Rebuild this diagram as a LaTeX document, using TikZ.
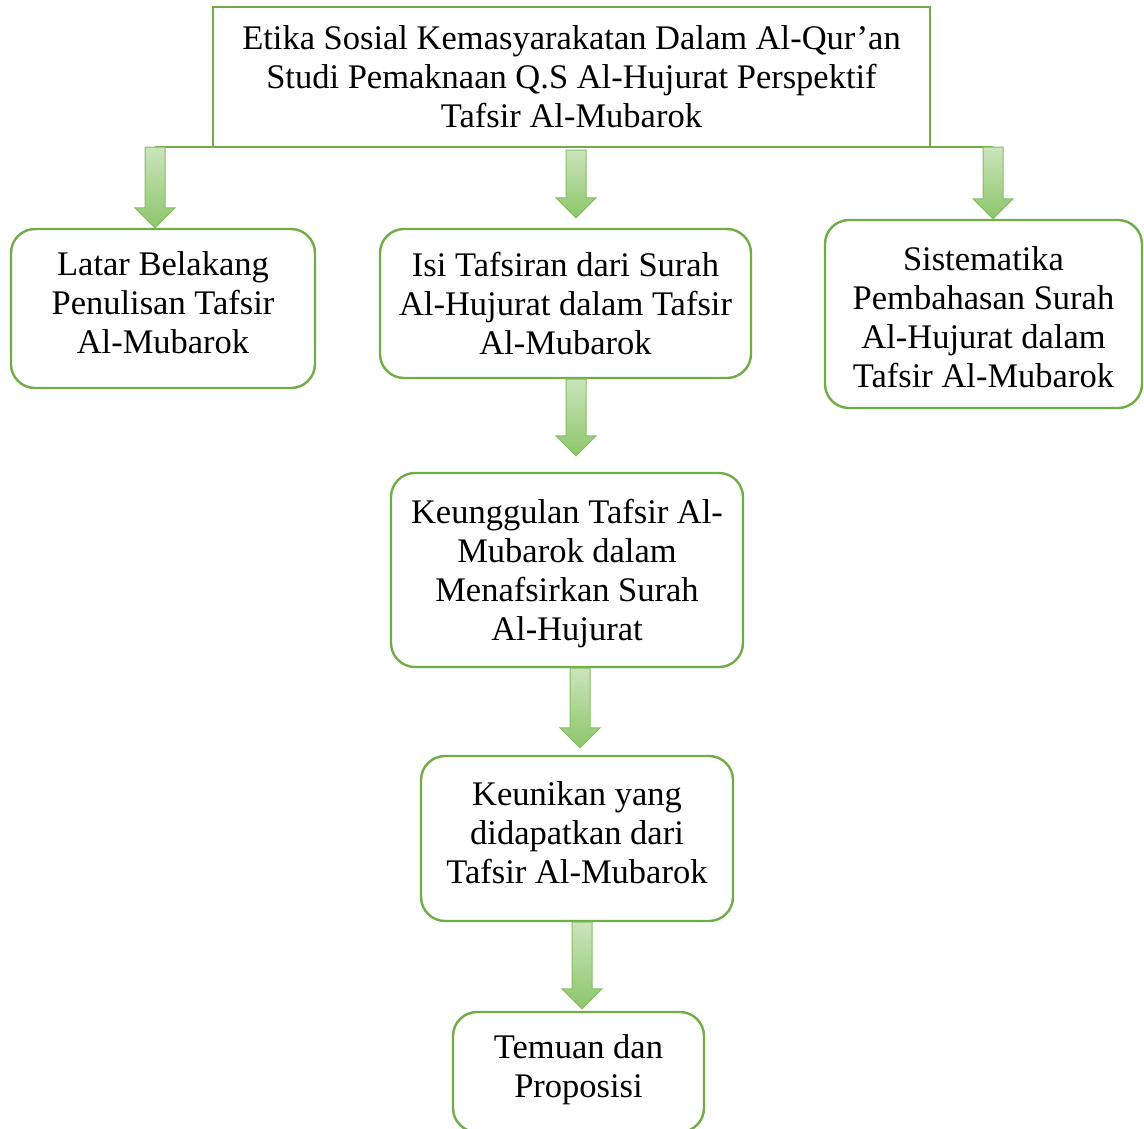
\documentclass[tikz,border=0pt]{standalone}
\usepackage{fontspec}
\setmainfont{Liberation Serif}
\usetikzlibrary{calc}
\definecolor{boxgreen}{HTML}{70AD47}
\definecolor{arrtop}{HTML}{CBE4BC}
\definecolor{arrbot}{HTML}{8CC66A}
\definecolor{arredge}{HTML}{86BF63}
\tikzset{
  box/.style={draw=boxgreen, line width=2.4pt, rounded corners=24pt, align=center,
    font=\fontsize{34.5}{39}\selectfont, inner sep=0pt},
  topbox/.style={box, rounded corners=0pt},
  arrowshade/.style={top color=arrtop, bottom color=arrbot, draw=arredge, line width=1pt},
  joinline/.style={draw=boxgreen, line width=2.4pt}
}
\newcommand\deepstrut[1]{\rule[-#1]{0pt}{#1}}
\newcommand\tallstrut[1]{\rule{0pt}{#1}}
\newcommand\blockarrow[2]{%
  \shade[arrowshade] let \p1=#1, \p2=#2 in
    (\x1-10pt,\y1) -- (\x1+10pt,\y1) -- (\x1+10pt,\y2+20pt) -- (\x1+20pt,\y2+20pt)
    -- (\x1,\y2) -- (\x1-20pt,\y2+20pt) -- (\x1-10pt,\y2+20pt) -- cycle;}
\begin{document}
\begin{tikzpicture}[x=1pt,y=-1pt]
\useasboundingbox (0,0) rectangle (1144,1128);
\begin{scope}
\clip (0,0) rectangle (1144,1128);
\node[topbox, minimum width=717pt, minimum height=140pt] (top) at (571.5,77)
  {Etika Sosial Kemasyarakatan Dalam Al-Qur’an\\Studi Pemaknaan Q.S Al-Hujurat Perspektif\\Tafsir Al-Mubarok};
\node[box, minimum width=304pt, minimum height=159pt] (latar) at (163,308.5)
  {Latar Belakang\\Penulisan Tafsir\\Al-Mubarok\deepstrut{12.5pt}};
\node[box, minimum width=371pt, minimum height=149pt] (isi) at (565.5,303.5)
  {Isi Tafsiran dari Surah\\Al-Hujurat dalam Tafsir\\Al-Mubarok};
\node[box, minimum width=317pt, minimum height=188pt] (sist) at (983.5,314)
  {\tallstrut{30pt}Sistematika\\Pembahasan Surah\\Al-Hujurat dalam\\Tafsir Al-Mubarok};
\node[box, minimum width=352pt, minimum height=194pt] (keung) at (567,570)
  {\tallstrut{31pt}Keunggulan Tafsir Al-\\Mubarok dalam\\Menafsirkan Surah\\Al-Hujurat};
\node[box, minimum width=312pt, minimum height=165pt] (keunik) at (577,838.5)
  {Keunikan yang\\didapatkan dari\\Tafsir Al-Mubarok\deepstrut{11pt}};
\node[box, minimum width=251pt, minimum height=120pt] (temuan) at (578.5,1072)
  {Temuan dan\\Proposisi\deepstrut{11pt}};
\end{scope}
\coordinate (j1) at (155,147);
\coordinate (j2) at (576,150);
\coordinate (j3) at (993,147);
\draw[joinline] (j1) -- (j3);
\blockarrow{(j1)}{(j1 |- latar.north)}
\blockarrow{(j2)}{($(j2 |- isi.north)+(0,-10)$)}
\blockarrow{(j3)}{(j3 |- sist.north)}
\blockarrow{($(isi.south)+(10.5,0)$)}{($(keung.north)+(9,-16)$)}
\blockarrow{($(keung.south)+(13,0)$)}{($(keunik.north)+(3,-7)$)}
\blockarrow{($(keunik.south)+(5,0)$)}{($(temuan.north)+(3.5,-2)$)}
\end{tikzpicture}
\end{document}
